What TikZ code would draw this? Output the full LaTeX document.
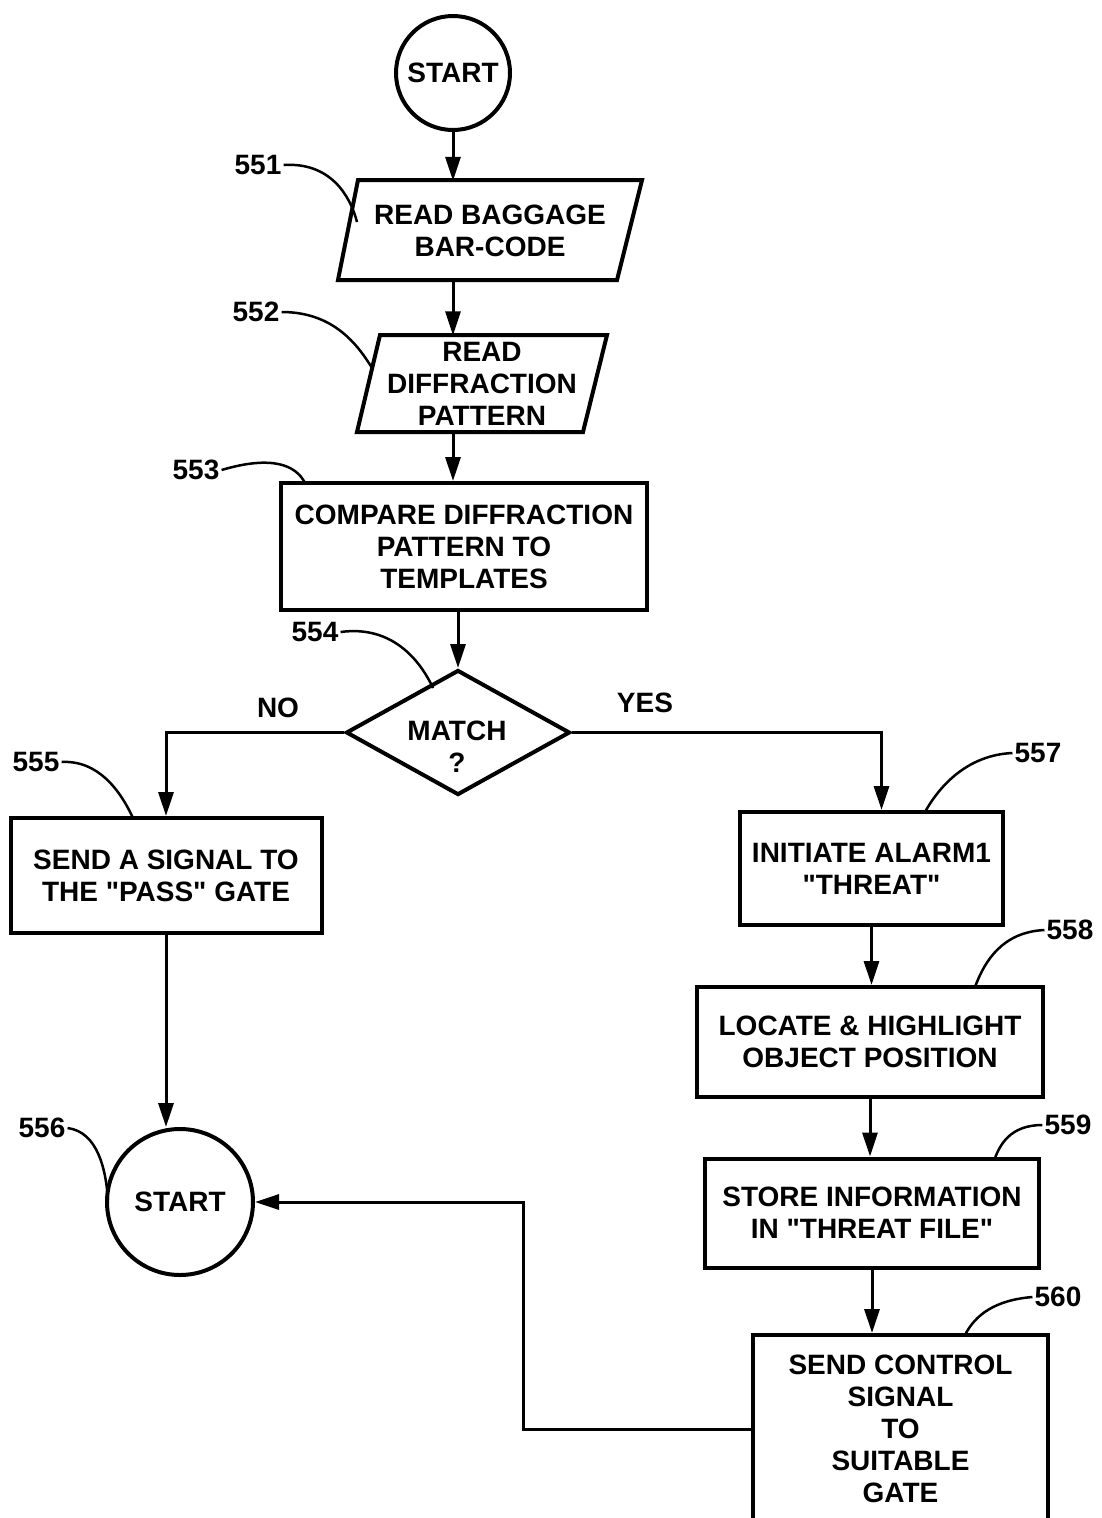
\documentclass[tikz,border=0pt]{standalone}
\usepackage{fontspec}
\setmainfont{Liberation Sans}[Ligatures=TeXOff]
\usetikzlibrary{arrows.meta,shapes.geometric,calc}
\begin{document}
\begin{tikzpicture}[x=1pt,y=-1pt,
  font=\fontsize{28}{32}\selectfont\bfseries,
  box/.style={draw,rectangle,line width=4pt,inner sep=0pt,align=center},
  outline/.style={line width=4pt,line join=miter},
  conn/.style={line width=3pt},
  arr/.style={line width=3pt,-{Triangle[length=24pt,width=15pt]}},
  lead/.style={line width=2.5pt},
  lbl/.style={inner sep=2pt},
  txt/.style={inner sep=0pt,align=center}]
\useasboundingbox (0,0) rectangle (1102,1518);

% start
\node[draw,circle,line width=4pt,minimum size=114pt,inner sep=0pt] (s1) at (453,73) {START};

% 551
\node[txt,minimum width=304pt,minimum height=100pt] (p551) at (490,231) {READ BAGGAGE\\BAR-CODE};
\draw[outline] (358,180) -- (642,180) -- (617,280) -- (338,280) -- cycle;

% 552
\node[txt,minimum width=250pt,minimum height=97pt] (p552) at (482,384) {READ\\DIFFRACTION\\PATTERN};
\draw[outline] (380,335) -- (607,335) -- (583,432) -- (357,432) -- cycle;

% 553
\node[box,minimum width=366pt,minimum height=127pt] (b553) at (464,546.5) {COMPARE DIFFRACTION\\PATTERN TO\\TEMPLATES};

% 554
\node[draw,diamond,line width=4pt,minimum width=224pt,minimum height=125pt,inner sep=0pt] (d554) at (458,732.5) {};
\node[txt] (m554) at (457,747) {MATCH\\?};

% 555
\node[box,minimum width=311pt,minimum height=115pt] (b555) at (166,875.5) {SEND A SIGNAL TO\\THE "PASS" GATE};

% 556
\node[draw,circle,line width=4pt,minimum size=146pt,inner sep=0pt] (s556) at (180,1202) {START};

% 557 - 560
\node[box,minimum width=263pt,minimum height=113pt] (b557) at (871.5,868.5) {INITIATE ALARM1\\"THREAT"};
\node[box,minimum width=346pt,minimum height=110pt] (b558) at (870,1042) {LOCATE \& HIGHLIGHT\\OBJECT POSITION};
\node[box,minimum width=334pt,minimum height=109pt] (b559) at (872,1213) {STORE INFORMATION\\IN "THREAT FILE"};
\node[box,minimum width=295pt,minimum height=188pt] (b560) at (900.5,1429) {SEND CONTROL\\SIGNAL\\TO\\SUITABLE\\GATE};

% branch labels
\node[txt] (no) at (278,708) {NO};
\node[txt] (yes) at (645,703) {YES};

% connectors
\draw[arr] (s1.south) -- (s1.south |- p551.north);
\draw[arr] (s1.south |- p551.south) -- (s1.south |- p552.north);
\draw[arr] (s1.south |- p552.south) -- (s1.south |- b553.north);
\draw[arr] (d554.north |- b553.south) -- (d554.north);
\draw[arr] (d554.west) -| (b555.north);
\draw[arr] (d554.east) -| ($(b557.north)+(10,0)$);
\draw[arr] (b555.south) -- (b555.south |- s556.north);
\draw[arr] (b557.south) -- (b557.south |- b558.north);
\draw[arr] (b558.south) -- (b558.south |- b559.north);
\draw[arr] (b559.south) -- (b559.south |- b560.north);
\draw[arr] (b560.west) -- ++(-228,0) |- (s556.east);

% reference numerals and leaders
\node[lbl] (l551) at (258,165) {551};
\draw[lead] (l551.east) .. controls (330,162) and (350,195) .. (357,222);
\node[lbl] (l552) at (256,312) {552};
\draw[lead] (l552.east) .. controls (330,312) and (355,340) .. (372,368);
\node[lbl] (l553) at (196,470) {553};
\draw[lead] (l553.east) .. controls (272,455) and (296,465) .. (305,483);
\node[lbl] (l554) at (315,632) {554};
\draw[lead] (l554.east) .. controls (392,625) and (420,660) .. (433,688);
\node[lbl] (l555) at (36,762) {555};
\draw[lead] (l555.east) .. controls (98,760) and (120,790) .. (133,818);
\node[lbl] (l556) at (42,1128) {556};
\draw[lead] (l556.east) .. controls (98,1132) and (106,1170) .. (108,1200);
\node[lbl] (l557) at (1038,753) {557};
\draw[lead] (l557.west) .. controls (968,755) and (940,785) .. (925,812);
\node[lbl] (l558) at (1070,930) {558};
\draw[lead] (l558.west) .. controls (1003,932) and (985,960) .. (975,987);
\node[lbl] (l559) at (1068,1125) {559};
\draw[lead] (l559.west) .. controls (1010,1125) and (1000,1145) .. (995,1158);
\node[lbl] (l560) at (1058,1297) {560};
\draw[lead] (l560.west) .. controls (995,1300) and (975,1315) .. (965,1335);
\end{tikzpicture}
\end{document}
